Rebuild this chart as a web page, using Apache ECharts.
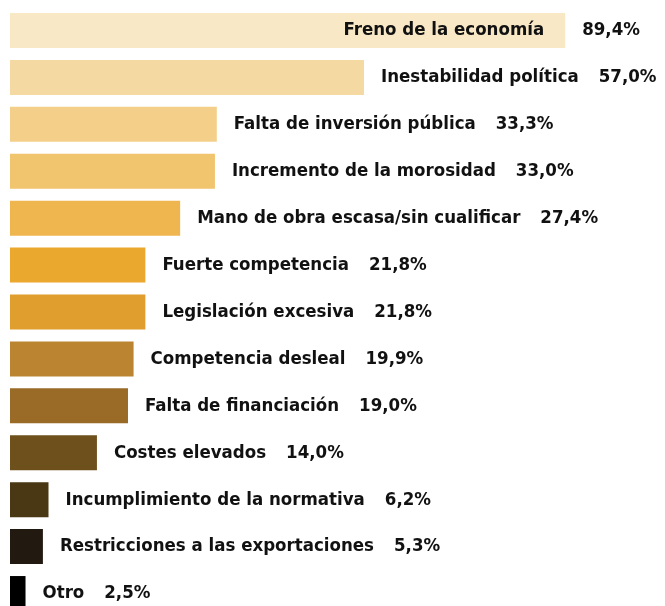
<!DOCTYPE html>
<html>
<head>
<meta charset="utf-8">
<script src="https://cdn.jsdelivr.net/npm/echarts@6/dist/echarts.min.js"></script>
<style>
  html, body { margin: 0; padding: 0; background: #fff; overflow: hidden; }
  /* un poco más alto que la ventana: la ultima barra queda cortada, como en el original */
  #chart { width: 665px; height: 617px; }
</style>
</head>
<body>
<div id="chart"></div>
<script>
// datos
var categorias = ['Freno de la economía', 'Inestabilidad política', 'Falta de inversión pública',
  'Incremento de la morosidad', 'Mano de obra escasa/sin cualificar', 'Fuerte competencia',
  'Legislación excesiva', 'Competencia desleal', 'Falta de financiación', 'Costes elevados',
  'Incumplimiento de la normativa', 'Restricciones a las exportaciones', 'Otro'];
var valores = [89.4, 57.0, 33.3, 33.0, 27.4, 21.8, 21.8, 19.9, 19.0, 14.0, 6.2, 5.3, 2.5];
var colores = ['#f8e8c6', '#f4d9a2', '#f3cf89', '#f1c46e', '#efb64f', '#eba82f', '#e09e2f',
  '#bb8430', '#9a6a27', '#6e501c', '#4a3713', '#221910', '#000000'];

var fuente = '"Liberation Sans Narrow", "DejaVu Sans Condensed", sans-serif';
var tam = 18.5;
function pct(v) { return v.toFixed(1).replace('.', ',') + '%'; }

var chart = echarts.init(document.getElementById('chart'));
chart.setOption({
  animation: false,
  grid: { left: 10, right: 34, top: 7, bottom: 0 },
  xAxis: { type: 'value', min: 0, max: 100, show: false },
  yAxis: { type: 'category', data: categorias, inverse: true, show: false },
  series: [{
    type: 'bar',
    barWidth: 35,
    data: valores.map(function (v, i) {
      return { value: v, itemStyle: { color: colores[i] } };
    }),
    label: {
      show: true,
      position: 'right',
      distance: 17,
      fontFamily: fuente,
      fontWeight: 'bold',
      fontSize: tam,
      color: '#111',
      formatter: function (p) {
        if (p.dataIndex === 0) return '{v|' + pct(p.value) + '}';
        return '{n|' + p.name + '}{v|' + pct(p.value) + '}';
      },
      rich: {
        n: { fontFamily: fuente, fontWeight: 'bold', fontSize: tam, color: '#111', padding: [0, 20, 0, 0] },
        v: { fontFamily: fuente, fontWeight: 'bold', fontSize: tam, color: '#111' }
      }
    }
  }, {
    // nombre de la primera barra, dentro de la barra
    type: 'bar',
    barWidth: 35,
    barGap: '-100%',
    silent: true,
    itemStyle: { color: 'transparent' },
    data: valores.map(function (v, i) {
      return { value: v, label: { show: i === 0 } };
    }),
    label: {
      position: 'insideRight',
      distance: 21,
      fontFamily: fuente,
      fontWeight: 'bold',
      fontSize: tam,
      color: '#111',
      formatter: '{b}'
    }
  }]
});
</script>
</body>
</html>
